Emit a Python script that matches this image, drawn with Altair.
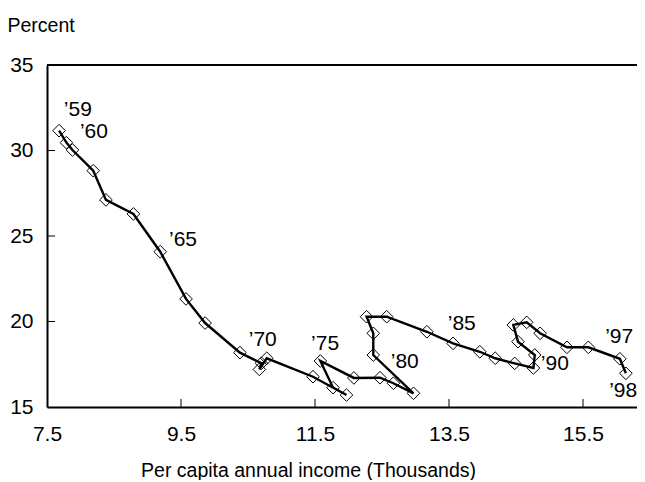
import altair as alt
import pandas as pd

years = list(range(1959, 1999))
income = [7.68, 7.79, 7.88, 8.19, 8.38, 8.79, 9.19, 9.575, 9.86, 10.38,
          10.70, 10.67, 10.78, 11.47, 11.97, 11.77, 11.58, 12.08, 12.47, 12.67,
          12.97, 12.37, 12.37, 12.27, 12.57, 13.17, 13.56, 13.96, 14.19, 14.48,
          14.76, 14.78, 14.53, 14.46, 14.66, 14.86, 15.26, 15.58, 16.05, 16.14]
percent = [31.16, 30.46, 30.03, 28.82, 27.11, 26.29, 24.08, 21.32, 19.91, 18.18,
           17.56, 17.20, 17.85, 16.77, 15.70, 16.13, 17.69, 16.70, 16.71, 16.39,
           15.80, 18.04, 19.31, 20.28, 20.28, 19.40, 18.72, 18.23, 17.85, 17.55,
           17.28, 18.04, 18.82, 19.80, 19.95, 19.31, 18.49, 18.49, 17.82, 16.97]

label_text = ["\u201959", "\u201960", "\u201965", "\u201970", "\u201975",
              "\u201980", "\u201985", "\u201990", "\u201997", "\u201998"]
label_x = [7.96, 8.20, 9.53, 10.72, 11.65, 12.84, 13.69, 15.08, 16.04, 16.10]
label_y = [32.37, 31.08, 24.77, 18.92, 18.68, 17.63, 19.85, 17.51, 19.09, 15.94]

x_ticks = [7.5, 9.5, 11.5, 13.5, 15.5]
y_ticks = [15, 20, 25, 30, 35]

W, H = 590, 342
FONT = "Liberation Sans"

df = pd.DataFrame({"year": years, "income": income, "percent": percent})
lab = pd.DataFrame({"text": label_text, "x": label_x, "y": label_y})
xt = pd.DataFrame({"v": x_ticks[1:]})
yt = pd.DataFrame({"v": y_ticks[1:-1]})

xscale = alt.Scale(domain=[7.5, 7.5 + W / 67.0], nice=False, zero=False)
yscale = alt.Scale(domain=[15, 35], nice=False, zero=False)

xaxis = alt.Axis(values=x_ticks, format=".1f", title="Per capita annual income (Thousands)",
                 grid=False, ticks=False, labelPadding=16, labelFontSize=21, labelFont=FONT,
                 labelColor="black", domainColor="black", domainWidth=2,
                 titleFont=FONT, titleFontSize=19.5, titleFontWeight="normal", titleColor="black",
                 titleX=261, titleY=69, titleBaseline="alphabetic", titleAlign="center",
                 labelFlush=False, labelOverlap=False)
yaxis = alt.Axis(values=y_ticks, title="Percent", grid=False, ticks=False, labelPadding=14,
                 labelFontSize=21, labelFont=FONT, labelColor="black",
                 domainColor="black", domainWidth=2,
                 titleFont=FONT, titleFontSize=19.5, titleFontWeight="normal", titleColor="black",
                 titleAngle=0, titleX=-40, titleY=-34, titleAlign="left",
                 titleBaseline="alphabetic", labelFlush=False, labelOverlap=False)

base = alt.Chart(df)
points = base.mark_point(shape="diamond", filled=False, size=160, color="black",
                         strokeWidth=1, opacity=1).encode(
    x=alt.X("income:Q", scale=xscale, axis=xaxis),
    y=alt.Y("percent:Q", scale=yscale, axis=yaxis),
)
line = base.mark_line(color="black", strokeWidth=2.4).encode(
    x=alt.X("income:Q", scale=xscale),
    y=alt.Y("percent:Q", scale=yscale),
    order="year:O",
)
labels = alt.Chart(lab).mark_text(font=FONT, fontSize=21, color="black",
                                  align="center", baseline="middle").encode(
    x=alt.X("x:Q", scale=xscale),
    y=alt.Y("y:Q", scale=yscale),
    text="text:N",
)
xtick = alt.Chart(xt).mark_rule(color="black", strokeWidth=1).encode(
    x=alt.X("v:Q", scale=xscale), y=alt.value(H), y2=alt.value(H - 8))
ytick = alt.Chart(yt).mark_rule(color="black", strokeWidth=1).encode(
    y=alt.Y("v:Q", scale=yscale), x=alt.value(0), x2=alt.value(8))
topline = alt.Chart(pd.DataFrame({"a": [0]})).mark_rule(color="black", strokeWidth=2).encode(
    x=alt.value(0), x2=alt.value(W + 10), y=alt.value(0))

chart = alt.layer(points, line, labels, xtick, ytick, topline).properties(
    width=W, height=H,
    autosize=alt.AutoSizeParams(type="none"),
    padding={"left": 39, "top": 57, "right": 0, "bottom": 73},
).configure_view(stroke=None).configure(background="white")

chart.save("out.html", embed_options={"renderer": "svg", "actions": False})
